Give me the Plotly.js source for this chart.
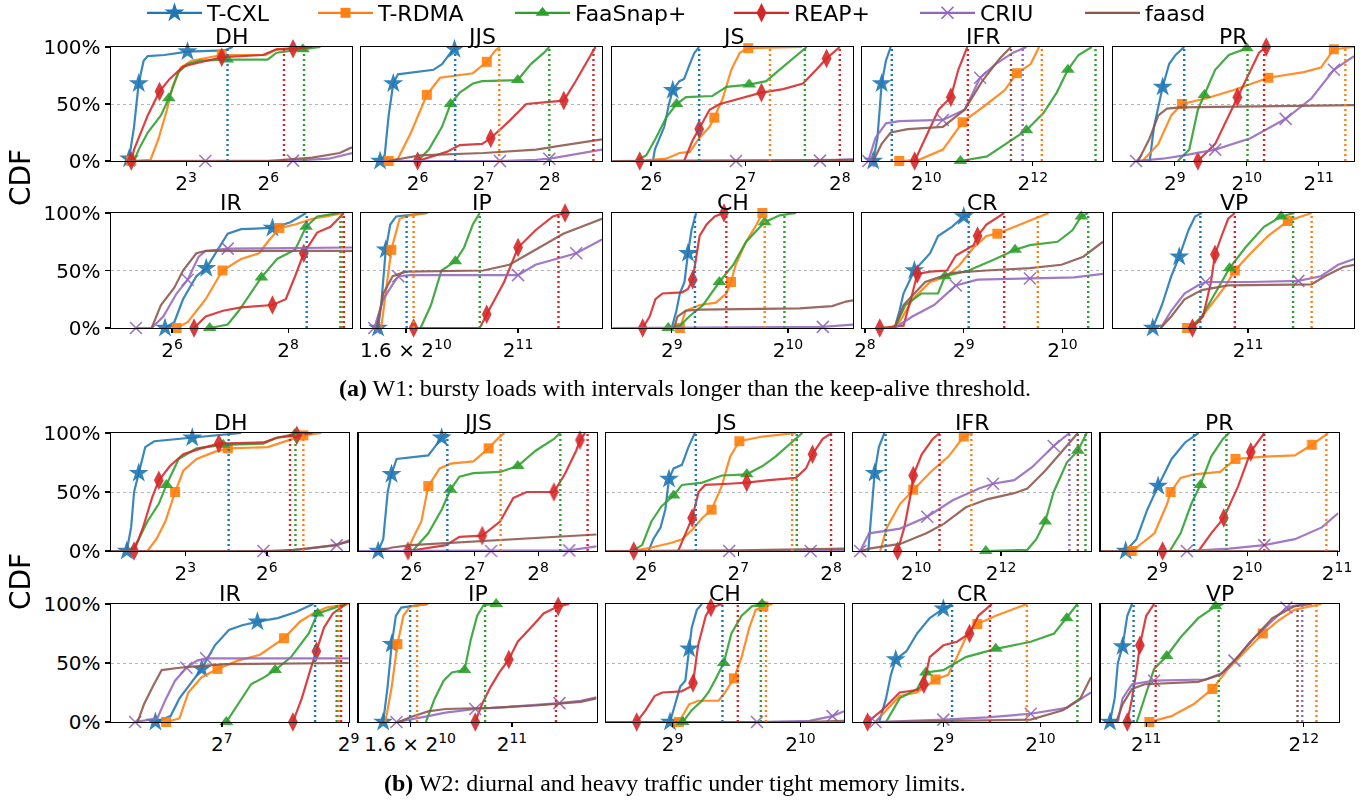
<!DOCTYPE html>
<html>
<head>
<meta charset="utf-8">
<script src="https://cdn.plot.ly/plotly-3.0.1.min.js"></script>
<style>html,body{margin:0;padding:0;background:#fff}#chart{width:1368px;height:801px}</style>
</head>
<body>
<div id="chart"></div>
<script>
// ---------------- series & categories ----------------
const SERIES = ['T-CXL', 'T-RDMA', 'FaaSnap+', 'REAP+', 'CRIU', 'faasd'];
const APPS = ['DH', 'JJS', 'JS', 'IFR', 'PR', 'IR', 'IP', 'CH', 'CR', 'VP'];
const CAPTION_A = '<b>(a)</b> W1: bursty loads with intervals longer than the keep-alive threshold.';
const CAPTION_B = '<b>(b)</b> W2: diurnal and heavy traffic under tight memory limits.';
const Y_LABEL = 'CDF';
const Y_TICKV = [0, 50, 100];
const Y_TICKT = ['0%', '50%', '100%'];

// x tick values (latency) and labels per panel
const W1_TICKV = [[8,64],[64,128,256],[64,128,256],[1024,4096],[512,1024,2048],[64,256],[1638.4,2048],[512,1024],[256,512,1024],[2048]];
const W1_TICKT = [['2<sup>3</sup>','2<sup>6</sup>'],['2<sup>6</sup>','2<sup>7</sup>','2<sup>8</sup>'],['2<sup>6</sup>','2<sup>7</sup>','2<sup>8</sup>'],['2<sup>10</sup>','2<sup>12</sup>'],['2<sup>9</sup>','2<sup>10</sup>','2<sup>11</sup>'],['2<sup>6</sup>','2<sup>8</sup>'],['1.6 × 2<sup>10</sup>','2<sup>11</sup>'],['2<sup>9</sup>','2<sup>10</sup>'],['2<sup>8</sup>','2<sup>9</sup>','2<sup>10</sup>'],['2<sup>11</sup>']];
const W2_TICKV = [[8,64],[64,128,256],[64,128,256],[1024,4096],[512,1024,2048],[128,512],[1638.4,2048],[512,1024],[512,1024],[2048,4096]];
const W2_TICKT = [['2<sup>3</sup>','2<sup>6</sup>'],['2<sup>6</sup>','2<sup>7</sup>','2<sup>8</sup>'],['2<sup>6</sup>','2<sup>7</sup>','2<sup>8</sup>'],['2<sup>10</sup>','2<sup>12</sup>'],['2<sup>9</sup>','2<sup>10</sup>','2<sup>11</sup>'],['2<sup>7</sup>','2<sup>9</sup>'],['1.6 × 2<sup>10</sup>','2<sup>11</sup>'],['2<sup>9</sup>','2<sup>10</sup>'],['2<sup>9</sup>','2<sup>10</sup>'],['2<sup>11</sup>','2<sup>12</sup>']];
// visible x span of each panel, log2(latency)
const W1_XSPAN = [[0.26,9.05],[5.14,8.8],[5.586,8.14],[8.79,13.32],[8.14,11.49],[4.95,9.1],[10.549,11.241],[8.486,10.56],[7.97,10.41],[10.49,11.40]];
const W2_XSPAN = [[0.26,9.02],[5.17,8.92],[5.57,8.14],[8.51,14.12],[8.37,11.015],[5.25,9.005],[10.515,11.267],[8.48,10.34],[8.07,10.52],[10.71,12.22]];

// ---------------- CDF data: x = log2(latency), y = CDF %, series order as SERIES ----------------
// mark = indices of the sampled points where a marker is drawn; p99 = log2 of the dotted tail marker
const W1_DH_x = [[0.78,0.92,1.1,1.27,1.45,1.6,2.2,3.05,4.4,4.7],[1.0,1.7,2.0,2.3,2.5,2.8,3.2,4.3,5.9,6.3,7.6],[1.1,1.27,1.6,2.08,2.37,2.72,3.05,3.5,4.5,5.97,6.3,7.26,7.9],[1.0,1.1,1.6,2.03,2.4,2.9,3.4,4.3,5.8,6.3,6.9,7.6],[0.9,3.7,6.9,8.2,9.05],[0.9,5.97,7.6,8.6,9.05]];
const W1_DH_y = [[0,2,30,68,88,92,93,96,97,100],[0,1,20,45,65,82,88,93,93,98,100],[0,10,25,40,55,78,85,88,89,89,95,98,100],[0,10,40,61,72,83,86,91,93,98,98.5,100],[0,0,0.3,2,7],[0,0,3,7,12]];
const W1_DH_mark = [[1,3,7],[0,7],[4,8,11],[0,3,7,10],[1,2],[]];
const W1_DH_p99 = [4.51,null,7.3,6.57,null,null];

const W1_JJS_x = [[5.43,5.5,5.56,5.63,5.7,5.97,6.24,6.37,6.5,6.56,6.6],[5.56,5.7,5.9,6.14,6.34,6.57,6.84,7.05,7.18,7.25],[6.0,6.17,6.37,6.5,6.64,6.84,6.98,7.52,7.72,7.92,8.0],[6.0,6.44,6.64,6.98,7.11,7.39,7.65,7.99,8.22,8.4,8.6,8.7],[5.43,7.25,7.8,8.0,8.8],[5.56,6.03,7.0,7.8,8.8]];
const W1_JJS_y = [[0,5,40,68,76,78,80,85,95,98,100],[0,2,25,58,73,75,77,87,97,100],[0,10,30,50,60,68,70,71,85,95,100],[0,8,14,15,20,35,50,52,53,70,90,100],[0,0,1,2,10],[0,5,7,10,19]];
const W1_JJS_mark = [[0,3,9],[0,3,7],[3,7],[0,4,8],[1,3],[]];
const W1_JJS_p99 = [6.57,7.24,8.0,8.67,null,null];

const W1_JS_x = [[6.02,6.04,6.09,6.14,6.19,6.23,6.3,6.35,6.41,6.46,6.51],[5.84,6.16,6.3,6.41,6.51,6.62,6.67,6.76,6.85,6.94,7.03,7.6],[5.84,5.95,6.05,6.16,6.27,6.37,6.65,6.8,7.04,7.22,7.36,7.5,7.65],[5.88,6.35,6.44,6.51,6.62,6.73,6.94,7.17,7.4,7.61,7.75,7.86,8.0],[5.59,6.9,7.79,8.14],[5.59,7.5,8.14]];
const W1_JS_y = [[0,10,20,30,50,62,70,72,85,95,100],[0,2,7,8,20,30,38,55,80,95,99,100],[0,5,20,38,50,56,57,65,67,70,80,90,100],[0,0,18,28,45,50,55,60,63,68,80,90,100],[0,0,0.3,1.5],[0,0.3,1]];
const W1_JS_mark = [[5],[6,10],[4,8],[0,3,7,11],[1,2],[]];
const W1_JS_p99 = [6.51,7.26,7.63,8.0,null,null];

const W1_IFR_x = [[9.0,9.08,9.16,9.24,9.33],[9.49,9.86,10.31,10.68,11.14,11.47,11.7,11.96,12.12],[10.64,11.14,11.88,12.2,12.45,12.66,12.86,13.11],[9.78,9.98,10.23,10.46,10.6,10.77],[8.91,9.04,9.24,9.49,10.31,10.72,11.01,11.3,11.63,11.88],[9.0,9.16,9.33,9.65,10.31,10.72,11.05,11.38,11.59]];
const W1_IFR_y = [[0,20,68,88,100],[0,1,10,34,50,62,77,85,100],[0,4,27,42,60,80,93,100],[0,20,45,56,80,100],[0,20,33,35,36,45,73,85,95,100],[0,15,25,28,30,45,70,90,100]];
const W1_IFR_mark = [[0,2],[0,3,6],[0,2,5],[0,3],[0,4,6],[]];
const W1_IFR_p99 = [9.35,12.17,13.18,10.78,11.81,11.59];

const W1_PR_x = [[8.65,8.71,8.83,8.92,9.01,9.13],[8.55,8.77,8.95,9.1,9.44,9.81,10.3,10.79,11.03,11.15,11.21,11.49],[9.04,9.2,9.32,9.41,9.56,9.75,10.0,10.05],[9.32,9.56,9.75,9.87,10.05,10.17,10.27],[8.46,8.83,9.13,9.56,10.05,10.54,10.9,11.21,11.49],[8.49,8.65,8.77,8.89,9.07,10.66,11.49]];
const W1_PR_y = [[0,30,65,85,93,100],[0,15,40,50,55,62,73,78,82,93,98,100],[0,10,45,58,80,93,99,100],[0,15,40,56,80,95,100],[0,2,5,10,20,37,55,80,92],[0,20,40,46,47,48,49]];
const W1_PR_mark = [[2],[3,6,10],[3,6],[0,3,6],[0,3,5,7],[]];
const W1_PR_p99 = [9.13,11.37,10.01,10.24,null,null];

const W1_IR_x = [[5.88,6.04,6.19,6.42,6.59,6.81,6.96,7.19,7.73,8.04,8.31],[6.08,6.27,6.58,6.87,7.19,7.5,7.65,7.85,8.12,8.42,8.65,8.96],[6.65,6.96,7.15,7.35,7.54,7.81,8.12,8.31,8.5,8.88],[6.38,6.58,6.88,7.19,7.73,7.96,8.12,8.27,8.5,8.73,8.96],[5.38,5.65,5.85,6.08,6.27,6.46,6.58,6.96,9.1],[5.65,5.81,6.04,6.19,6.42,6.58,9.1]];
const W1_IR_y = [[0,5,25,45,52,70,82,86,87,92,100],[0,5,25,50,60,65,75,87,90,95,97,100],[0,3,15,30,44,60,68,88,97,100],[0,10,15,18,20,25,45,65,83,88,100],[0,0,10,30,42,62,67,69,70],[0,20,35,50,65,67,67]];
const W1_IR_mark = [[0,4,8],[0,3,7],[0,4,7],[0,4,7],[0,4,7],[]];
const W1_IR_p99 = [8.32,8.93,8.9,8.96,null,null];

const W1_IP_x = [[10.598,10.607,10.62,10.633,10.65,10.74],[10.607,10.62,10.636,10.66,10.69,10.74],[10.72,10.75,10.78,10.82,10.845,10.87,10.89],[10.70,10.89,10.91,10.96,11.0,11.05,11.1,11.135],[10.587,10.613,10.64,10.656,10.69,11.0,11.05,11.167,11.241],[10.594,10.613,10.64,10.678,10.9,10.975,11.05,11.13,11.241]];
const W1_IP_y = [[0,20,68,90,97,100],[0,30,68,95,98,100],[0,20,50,58,70,90,100],[0,0,12,40,70,85,97,100],[0,25,38,45,46,46,55,65,77],[0,30,45,49,50,55,68,82,95]];
const W1_IP_mark = [[0,2],[2],[3],[0,2,4,7],[0,3,5,7],[]];
const W1_IP_p99 = [10.68,10.70,10.89,11.116,null,null];

const W1_CH_x = [[9.0,9.04,9.07,9.11,9.14,9.17,9.21],[9.07,9.12,9.24,9.38,9.47,9.51,9.55,9.64,9.73,9.78],[8.97,9.07,9.15,9.27,9.41,9.53,9.64,9.8,9.93,10.07],[8.75,8.81,8.86,8.92,9.09,9.14,9.18,9.21,9.24,9.3,9.37,9.45],[8.49,10.3,10.56],[9.02,9.05,9.12,9.24,10.1,10.38,10.5,10.56]];
const W1_CH_y = [[0,15,30,40,65,85,100],[0,15,20,22,30,40,55,75,90,100],[0,2,10,20,40,55,75,92,98,100],[0,10,25,30,31,34,42,60,80,90,97,100],[0,1,3],[0,10,15,16,17,19,23,24]];
const W1_CH_mark = [[4],[0,5,9],[0,4,7],[0,6,11],[1],[]];
const W1_CH_p99 = [9.2,9.8,9.97,9.47,null,null];

const W1_CR_x = [[8.3,8.35,8.39,8.5,8.66,8.74,8.88,9.0,9.07],[8.26,8.35,8.48,8.66,8.83,8.96,9.1,9.23,9.34,9.58,9.86],[8.3,8.41,8.57,8.74,8.81,9.05,9.32,9.52,9.67,9.95,10.1,10.19,10.26],[8.15,8.39,8.48,8.53,8.66,8.83,8.92,9.1,9.14,9.23,9.41],[8.3,8.48,8.7,8.83,8.92,9.14,9.67,10.12,10.41],[8.3,8.39,8.61,8.88,9.23,9.67,9.99,10.21,10.41]];
const W1_CR_y = [[0,15,30,50,65,80,88,97,100],[0,5,25,40,45,55,70,80,82,90,100],[0,20,30,30,45,50,60,68,72,75,85,97,100],[0,2,30,47,49,50,63,72,80,90,100],[0,10,20,30,37,42,43,44,47],[0,20,40,48,50,52,55,62,75]];
const W1_CR_mark = [[3,7],[8],[4,7,11],[0,3,8],[4,6],[]];
const W1_CR_p99 = [9.05,9.75,10.26,9.41,null,null];

const W1_VP_x = [[10.64,10.675,10.71,10.74,10.775,10.8,10.825],[10.77,10.81,10.86,10.91,10.95,11.01,11.075,11.15,11.24],[10.78,10.825,10.875,10.93,10.99,11.06,11.125,11.175],[10.79,10.83,10.86,10.875,10.9,10.925,10.95],[10.67,10.71,10.76,10.81,10.84,11.01,11.19,11.275,11.34,11.4],[10.67,10.71,10.76,10.825,10.925,11.24,11.29,11.36,11.4]];
const W1_VP_y = [[0,20,45,62,85,97,100],[0,5,20,35,50,65,80,93,100],[0,10,30,52,70,88,97,100],[0,10,40,64,80,95,100],[0,15,30,37,40,40,41,45,55,60],[0,10,25,33,37,38,45,53,55]];
const W1_VP_mark = [[0,3],[0,4,7],[3,6],[0,3],[4,6],[]];
const W1_VP_p99 = [10.82,11.24,11.17,10.95,null,null];

const W2_DH_x = [[0.84,1.0,1.11,1.28,1.52,1.85,2.75,3.25,4.56,5.05],[1.6,1.93,2.26,2.62,2.92,3.41,4.07,4.56,6.03,6.69,7.34,8.0],[1.03,1.28,1.6,2.02,2.3,2.75,3.41,4.39,5.87,6.36,7.02,7.67],[1.11,1.44,1.77,2.02,2.43,2.92,3.57,4.23,5.87,6.36,7.1,7.67],[0.26,5.87,7.0,8.57,9.02],[0.26,6.5,7.5,8.5,9.02]];
const W2_DH_y = [[0,20,50,66,88,93,95,96,99,100],[0,10,25,50,68,78,84,87,88,93,98,100],[0,10,25,40,56,78,87,90,91,96,99,100],[0,20,45,60,72,82,87,91,92,96,98,100],[0,0,1,5,9],[0,0,2,5,8]];
const W2_DH_mark = [[0,3,7],[3,7,10],[4,7,10],[0,3,7,10],[1,3],[]];
const W2_DH_p99 = [4.59,7.34,7.05,6.85,null,null];

const W2_JJS_x = [[5.48,5.56,5.63,5.69,5.77,6.06,6.27,6.37,6.48,6.55],[5.95,6.02,6.16,6.27,6.45,6.62,6.98,7.22,7.36,7.47],[6.02,6.27,6.48,6.62,6.76,6.98,7.4,7.68,7.96,8.25,8.35],[5.95,6.55,6.76,7.12,7.4,7.61,7.82,8.25,8.42,8.6,8.66,8.74],[5.17,7.26,8.49,8.92],[5.5,5.7,6.0,7.0,8.0,8.92]];
const W2_JJS_y = [[0,10,50,65,78,80,81,88,96,100],[0,10,25,55,70,74,76,87,95,100],[0,15,35,52,63,66,67,72,85,95,100],[0,5,12,13,25,45,50,50,65,85,94,100],[0,0,0.5,4],[0,3,5,8,11,14]];
const W2_JJS_mark = [[0,3,8],[3,7],[3,7],[0,3,7,10],[1,2],[]];
const W2_JJS_p99 = [6.57,7.41,8.35,8.78,null,null];

const W2_JS_x = [[6.03,6.08,6.16,6.21,6.25,6.3,6.39,6.46,6.53],[5.85,6.06,6.28,6.39,6.5,6.61,6.71,6.82,6.91,7.01,7.26,7.62],[5.85,5.96,6.06,6.17,6.3,6.39,6.61,6.82,7.09,7.26,7.4,7.55,7.69],[5.87,6.35,6.43,6.5,6.57,6.64,6.9,7.09,7.33,7.62,7.73,7.8,7.91,8.01],[5.57,6.9,7.78,8.14],[5.57,7.0,8.14]];
const W2_JS_y = [[0,10,20,35,61,70,73,88,100],[0,3,7,10,18,28,35,55,80,93,97,100],[0,5,25,38,47,56,58,64,65,72,80,90,100],[0,0,15,28,50,56,57,58,60,62,70,82,95,100],[0,0,0,1],[0,0.5,2]];
const W2_JS_mark = [[4],[6,9],[4,8],[0,3,7,11],[1,2],[]];
const W2_JS_p99 = [6.54,7.58,7.63,8.0,null,null];

const W2_IFR_x = [[8.87,8.94,9.02,9.12,9.25],[9.15,9.31,9.62,9.93,10.34,10.76,11.12,11.33],[11.64,12.62,12.83,13.04,13.24,13.55,13.81,14.02],[9.56,9.72,9.88,9.93,10.13,10.39,10.55],[8.68,8.89,9.62,10.26,10.86,11.48,11.81,12.31,12.73,13.14,13.24,13.61],[8.7,8.89,9.62,10.24,10.65,11.17,11.69,12.31,12.62,13.04,13.45,13.81]];
const W2_IFR_y = [[0,30,66,88,100],[0,20,40,52,67,80,97,100],[0,1,10,25,50,75,85,100],[0,20,50,64,82,95,100],[0,15,19,29,43,53,57,60,71,85,89,100],[0,2,6,15,23,37,44,49,53,68,85,100]];
const W2_IFR_mark = [[2],[3,6],[0,3,6],[0,3],[0,3,6,10],[]];
const W2_IFR_p99 = [9.28,11.3,13.99,10.55,13.61,13.81];

const W2_PR_x = [[8.65,8.77,8.89,9.01,9.16,9.31,9.46],[8.72,8.97,9.11,9.15,9.26,9.41,9.7,9.87,10.19,10.53,10.72,10.9],[9.14,9.26,9.38,9.48,9.6,9.73,9.8],[9.06,9.46,9.6,9.74,9.9,10.04,10.19],[9.33,9.8,10.19,10.53,10.83,11.01],[8.37,11.01]];
const W2_PR_y = [[0,10,35,55,78,92,100],[0,15,40,50,62,65,67,78,80,81,90,100],[0,15,40,56,80,95,100],[0,0,15,28,55,84,100],[0,2,5,10,20,32],[0,0]];
const W2_PR_mark = [[0,3],[0,3,7,10],[3],[0,3,5],[0,2],[]];
const W2_PR_p99 = [9.41,10.88,9.77,10.19,null,null];

const W2_IR_x = [[5.95,6.19,6.33,6.54,6.68,6.89,7.11,7.32,7.56,7.88,8.16,8.44],[6.12,6.33,6.47,6.68,6.93,7.25,7.6,7.81,7.98,8.23,8.44,8.65,9.0],[7.07,7.25,7.46,7.67,7.84,8.09,8.37,8.51,8.72,8.96],[8.12,8.26,8.4,8.49,8.61,8.75,8.96],[5.63,5.98,6.12,6.26,6.44,6.61,6.75,9.0],[5.67,5.77,5.91,6.05,6.33,7.04,9.0]];
const W2_IR_y = [[0,5,20,35,45,65,78,82,85,88,93,100],[0,3,25,38,45,52,57,65,71,85,92,97,100],[0,15,32,38,44,55,75,92,96,100],[0,20,45,60,80,92,100],[0,3,20,35,46,52,54,54],[0,15,30,44,46,49,50]];
const W2_IR_mark = [[0,4,8],[0,4,8],[0,4,7],[0,3],[0,4,6],[]];
const W2_IR_p99 = [8.47,8.84,8.81,8.88,null,null];

const W2_IP_x = [[10.593,10.607,10.62,10.633,10.65,10.735],[10.6,10.62,10.638,10.657,10.678,10.735],[10.728,10.756,10.784,10.81,10.85,10.87,10.89,10.91,10.95],[10.884,10.905,10.933,10.96,10.99,11.018,11.06,11.1,11.146,11.18],[10.635,10.678,10.735,10.79,10.884,11.0,11.15,11.217,11.267],[10.642,10.678,10.735,10.79,10.933,11.075,11.217,11.267]];
const W2_IP_y = [[0,30,66,90,97,100],[0,30,66,90,98,100],[0,20,35,42,44,70,90,99,100],[0,15,30,42,53,68,80,92,98,100],[0,2,5,8,11,13,16,18,21],[0,4,9,11,12,14,17,20]];
const W2_IP_mark = [[0,2],[2],[4,8],[0,4,8],[0,4,6],[]];
const W2_IP_p99 = [10.678,10.70,10.915,11.139,null,null];

const W2_CH_x = [[8.98,9.02,9.06,9.1,9.13,9.15,9.19,9.23],[9.05,9.13,9.2,9.36,9.41,9.48,9.54,9.6,9.65,9.71,9.78],[9.08,9.15,9.23,9.28,9.33,9.4,9.46,9.54,9.62,9.7],[8.72,8.79,8.86,8.92,9.07,9.14,9.16,9.2,9.26,9.3,9.39],[8.48,9.66,10.07,10.25,10.34],[8.48,10.0,10.34]];
const W2_CH_y = [[0,15,30,35,62,80,95,100],[0,15,18,18,25,37,55,80,95,98,100],[0,10,18,25,35,50,75,90,98,100],[0,10,22,25,26,30,33,65,90,97,100],[0,0,1,5,9],[0,0,1]];
const W2_CH_mark = [[0,4],[0,5,9],[0,5,9],[0,6,9],[1,3],[]];
const W2_CH_p99 = [9.39,9.73,9.69,9.51,null,null];

const W2_CR_x = [[8.34,8.41,8.46,8.51,8.62,8.73,8.86,9.0,9.09],[8.3,8.41,8.55,8.73,8.92,9.05,9.14,9.25,9.35,9.54,9.86],[8.41,8.55,8.73,8.82,9.0,9.23,9.54,9.9,10.14,10.27,10.38],[8.22,8.37,8.55,8.73,8.8,8.86,9.0,9.14,9.27,9.36,9.5],[8.3,9.0,9.45,9.9,10.27,10.52],[8.34,9.45,9.9,10.23,10.41,10.52]];
const W2_CR_y = [[0,20,40,53,60,75,88,96,100],[0,10,22,25,36,40,55,75,83,90,100],[0,20,28,42,44,55,62,68,75,88,100],[0,10,25,27,32,55,65,68,75,90,100],[0,2,4,7,12,25],[0,1,2,10,20,38]];
const W2_CR_mark = [[3,7],[4,8],[3,6,9],[0,4,8],[0,1,3],[]];
const W2_CR_p99 = [9.09,9.86,10.38,9.48,null,null];

const W2_VP_x = [[10.77,10.8,10.82,10.85,10.88,10.91],[11.02,11.16,11.3,11.42,11.52,11.63,11.74,11.83,11.94,12.11],[10.94,10.99,11.05,11.13,11.22,11.33,11.44,11.49],[10.88,10.91,10.94,10.96,11.0,11.05],[10.82,10.85,10.91,11.05,11.38,11.49,11.56,11.66,11.77,11.89,12.0],[10.81,10.85,10.91,10.99,11.33,11.47,11.58,11.69,11.8,11.94,12.05]];
const W2_VP_y = [[0,20,50,64,90,100],[0,5,15,28,45,60,75,85,95,100],[0,20,45,56,72,88,98,100],[0,20,45,65,90,100],[0,20,32,35,36,42,52,68,82,97,100],[0,15,28,32,34,40,55,72,88,98,100]];
const W2_VP_mark = [[0,3],[0,3,6],[3,6],[0,3],[3,6,9],[]];
const W2_VP_p99 = [10.92,12.08,11.46,11.06,11.99,11.96];

// ---------------- assemble ----------------
const PANELS = [
  [W1_DH_x,W1_DH_y,W1_DH_mark,W1_DH_p99],[W1_JJS_x,W1_JJS_y,W1_JJS_mark,W1_JJS_p99],[W1_JS_x,W1_JS_y,W1_JS_mark,W1_JS_p99],[W1_IFR_x,W1_IFR_y,W1_IFR_mark,W1_IFR_p99],[W1_PR_x,W1_PR_y,W1_PR_mark,W1_PR_p99],
  [W1_IR_x,W1_IR_y,W1_IR_mark,W1_IR_p99],[W1_IP_x,W1_IP_y,W1_IP_mark,W1_IP_p99],[W1_CH_x,W1_CH_y,W1_CH_mark,W1_CH_p99],[W1_CR_x,W1_CR_y,W1_CR_mark,W1_CR_p99],[W1_VP_x,W1_VP_y,W1_VP_mark,W1_VP_p99],
  [W2_DH_x,W2_DH_y,W2_DH_mark,W2_DH_p99],[W2_JJS_x,W2_JJS_y,W2_JJS_mark,W2_JJS_p99],[W2_JS_x,W2_JS_y,W2_JS_mark,W2_JS_p99],[W2_IFR_x,W2_IFR_y,W2_IFR_mark,W2_IFR_p99],[W2_PR_x,W2_PR_y,W2_PR_mark,W2_PR_p99],
  [W2_IR_x,W2_IR_y,W2_IR_mark,W2_IR_p99],[W2_IP_x,W2_IP_y,W2_IP_mark,W2_IP_p99],[W2_CH_x,W2_CH_y,W2_CH_mark,W2_CH_p99],[W2_CR_x,W2_CR_y,W2_CR_mark,W2_CR_p99],[W2_VP_x,W2_VP_y,W2_VP_mark,W2_VP_p99]
];
const TICKV = W1_TICKV.concat(W2_TICKV);
const TICKT = W1_TICKT.concat(W2_TICKT);
const XSPAN = W1_XSPAN.concat(W2_XSPAN);

// ---------------- styling / geometry ----------------
const W = 1368, H = 801;
const COLORS = ['#1f77b4','#ff7f0e','#2ca02c','#d62728','#9467bd','#8c564b'];
const SYMBOLS = ['star','square','triangle-up','diamond-tall','x-thin',null];
const MSIZE = [15,10,12,14,12,0];
const FONT = 'DejaVu Sans, sans-serif';
const ROWS = [[47,161],[213,328],[433,551],[604,722]];
const COLS_A = [111,361,612,862,1113], WID_A = 241;
const COLS_B = [111,358.5,606,853,1100.5], WID_B = 238;
const L2 = Math.log10(2);
const lat = e => Math.pow(2, e);   // log2(latency) -> latency

function markerStyle(s) {
  const isX = SYMBOLS[s] === 'x-thin';
  return {symbol: SYMBOLS[s], size: MSIZE[s], color: COLORS[s],
          line: {color: COLORS[s], width: isX ? 1.6 : 0}};
}

const traces = [];
const vlines = [];
const annotations = [];
const layout = {
  width: W, height: H, margin: {l:0, r:0, t:0, b:0, pad: 0, autoexpand: false},
  paper_bgcolor: 'white', plot_bgcolor: 'white',
  font: {family: FONT, color: 'black', size: 20},
  showlegend: true, hovermode: false
};

PANELS.forEach((P, i) => {
  const r = Math.floor(i / 5), c = i % 5;
  const k = i === 0 ? '' : String(i + 1);
  const left = r < 2 ? COLS_A[c] : COLS_B[c];
  const wid = r < 2 ? WID_A : WID_B;
  const top = ROWS[r][0], bot = ROWS[r][1];
  const xd = [left / W, (left + wid) / W];
  const yd = [1 - bot / H, 1 - top / H];
  layout['xaxis' + k] = {
    type: 'log', domain: xd, anchor: 'y' + k,
    range: [XSPAN[i][0] * L2, XSPAN[i][1] * L2],
    tickmode: 'array', tickvals: TICKV[i], ticktext: TICKT[i],
    ticks: 'outside', ticklen: 3.5, tickwidth: 1.2, tickcolor: 'black',
    showline: true, mirror: true, linecolor: 'black', linewidth: 1.4,
    showgrid: false, zeroline: false,
    tickfont: {size: 20, family: FONT, color: 'black'}
  };
  layout['yaxis' + k] = {
    domain: yd, anchor: 'x' + k, range: [0, 100],
    tickmode: 'array', tickvals: Y_TICKV, ticktext: Y_TICKT,
    showticklabels: c === 0, ticks: c === 0 ? 'outside' : '', ticklen: 5, tickwidth: 1.2, tickcolor: 'black',
    showline: true, mirror: true, linecolor: 'black', linewidth: 1.4,
    showgrid: true, gridcolor: '#b5b5b5', griddash: 'dot', gridwidth: 1,
    zeroline: false,
    tickfont: {size: 20, family: FONT, color: 'black'}
  };
  annotations.push({
    text: APPS[i % 10], xref: 'paper', yref: 'paper',
    x: (xd[0] + xd[1]) / 2, y: yd[1], xanchor: 'center', yanchor: 'bottom', yshift: -3, borderpad: 0,
    showarrow: false, font: {size: 22, family: FONT, color: 'black'}
  });
  const X = P[0], Y = P[1], M = P[2], PQ = P[3];
  for (let s = 0; s < 6; s++) {
    const xs = X[s].map(lat), ys = Y[s];
    traces.push({
      type: 'scatter', mode: 'lines', x: xs, y: ys, xaxis: 'x' + k, yaxis: 'y' + k,
      line: {color: COLORS[s], width: 2.2}, opacity: 0.88, showlegend: false, hoverinfo: 'skip'
    });
    if (SYMBOLS[s] && M[s].length) {
      traces.push({
        type: 'scatter', mode: 'markers', x: M[s].map(j => xs[j]), y: M[s].map(j => ys[j]),
        xaxis: 'x' + k, yaxis: 'y' + k, cliponaxis: false, opacity: 0.9,
        marker: markerStyle(s), showlegend: false, hoverinfo: 'skip'
      });
    }
    if (PQ[s] !== null) {
      vlines.push({
        type: 'scatter', mode: 'lines', x: [lat(PQ[s]), lat(PQ[s])], y: [0, 100],
        xaxis: 'x' + k, yaxis: 'y' + k,
        line: {color: COLORS[s], width: 2.4, dash: '2px,3px'},
        showlegend: false, hoverinfo: 'skip'
      });
    }
  }
});

// legend entries (one legend box per series, laid out across the top)
const LEG_X = [150, 321, 518, 737, 923, 1088];
SERIES.forEach((name, s) => {
  const lk = s === 0 ? 'legend' : 'legend' + (s + 1);
  const t = {
    type: 'scatter', mode: SYMBOLS[s] ? 'lines+markers' : 'lines', name: name,
    x: [null], y: [null], xaxis: 'x', yaxis: 'y', legend: lk, showlegend: true,
    line: {color: COLORS[s], width: 2.2}
  };
  if (SYMBOLS[s]) t.marker = markerStyle(s);
  traces.push(t);
  layout[lk] = {
    x: (LEG_X[s] - 8) / W, y: 1 - 13 / H, xanchor: 'left', yanchor: 'middle',
    orientation: 'h', bgcolor: 'rgba(0,0,0,0)', borderwidth: 0, itemwidth: 55,
    font: {size: 22, family: FONT, color: 'black'}
  };
});

// y labels and captions
annotations.push({text: Y_LABEL, xref: 'paper', yref: 'paper', x: 20 / W, y: 1 - 178 / H, textangle: -90,
  xanchor: 'center', yanchor: 'middle', showarrow: false, font: {size: 28, family: FONT, color: 'black'}});
annotations.push({text: Y_LABEL, xref: 'paper', yref: 'paper', x: 20 / W, y: 1 - 582 / H, textangle: -90,
  xanchor: 'center', yanchor: 'middle', showarrow: false, font: {size: 28, family: FONT, color: 'black'}});
annotations.push({text: CAPTION_A, xref: 'paper', yref: 'paper', x: 685 / W, y: 1 - 388 / H,
  xanchor: 'center', yanchor: 'middle', showarrow: false, font: {size: 24, family: 'Liberation Serif, serif', color: 'black'}});
annotations.push({text: CAPTION_B, xref: 'paper', yref: 'paper', x: 675 / W, y: 1 - 783 / H,
  xanchor: 'center', yanchor: 'middle', showarrow: false, font: {size: 24, family: 'Liberation Serif, serif', color: 'black'}});
layout.annotations = annotations;

Plotly.newPlot('chart', traces.concat(vlines), layout, {staticPlot: true, displayModeBar: false});
</script>
</body>
</html>
